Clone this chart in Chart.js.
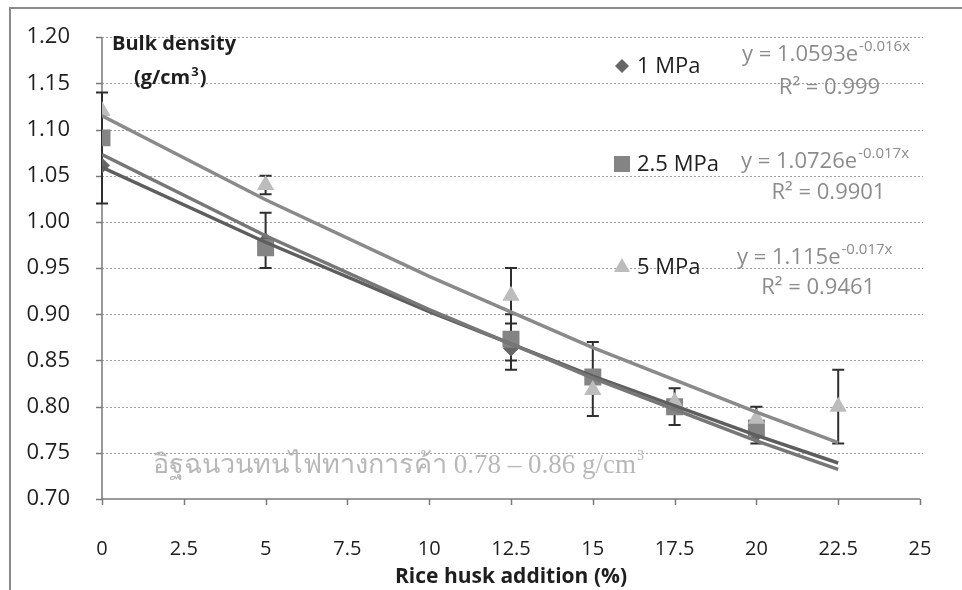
<!DOCTYPE html>
<html>
<head>
<meta charset="utf-8">
<script src="https://cdn.jsdelivr.net/npm/chart.js@4.4.0/dist/chart.umd.min.js"></script>
<style>
html,body{margin:0;padding:0;background:#fff;}
#c{display:block;}
</style>
</head>
<body>
<canvas id="c" width="962" height="590" style="width:962px;height:590px"></canvas>
<script>
// ---- data ----
const xValues = [0, 5, 12.5, 15, 17.5, 20, 22.5];
const mpa1  = [1.061, 0.980, 0.863, 0.830, 0.800, 0.770, null];
const mpa25 = [1.091, 0.972, 0.873, 0.832, 0.800, 0.777, null];
const mpa5  = [1.120, 1.040, 0.920, 0.818, 0.805, 0.787, 0.800];

const err1Low   = [1.02, 0.95, 0.85, null, 0.78, 0.76, null];
const err1High  = [1.14, 1.01, 0.88, null, 0.82, 0.80, null];
const err25Low  = [null, null, 0.84, null, null, null, null];
const err25High = [null, null, 0.90, null, null, null, null];
const err5Low   = [null, 1.03, 0.89, 0.79, null, null, 0.76];
const err5High  = [null, 1.05, 0.95, 0.87, null, null, 0.84];

// trendline values
const trendX  = [0, 5, 10, 15, 20, 22.5];
const trend1  = [1.059, 0.978, 0.903, 0.833, 0.769, 0.739];
const trend25 = [1.073, 0.985, 0.905, 0.831, 0.763, 0.732];
const trend5  = [1.115, 1.024, 0.941, 0.864, 0.794, 0.761];

const seriesNames = ['1 MPa', '2.5 MPa', '5 MPa'];
const equations = [['y = 1.0593e', '-0.016x', 'R² = 0.999'],
                   ['y = 1.0726e', '-0.017x', 'R² = 0.9901'],
                   ['y = 1.115e',  '-0.017x', 'R² = 0.9461']];
const xTickLabels = ['0','2.5','5','7.5','10','12.5','15','17.5','20','22.5','25'];
const yTickLabels = ['0.70','0.75','0.80','0.85','0.90','0.95','1.00','1.05','1.10','1.15','1.20'];
const xTitle = 'Rice husk addition (%)';
const yTitle1 = 'Bulk density';
const yTitle2 = '(g/cm';
const noteText = 'อิฐฉนวนทนไฟทางการค้า 0.78 – 0.86 g/cm';

const FONT = '"Open Sans", Lato, sans-serif';

function pts(xs, ys){ const o=[]; xs.forEach((x,i)=>{ if(ys[i]!==null) o.push({x:x,y:ys[i]}); }); return o; }

const colDiamond = '#666666', colSquare = '#848484', colTri = '#bcbcbc';

const deco = {
  id:'deco',
  beforeDraw(chart){
    const ctx = chart.ctx;
    ctx.save();
    ctx.fillStyle = '#fff';
    ctx.fillRect(0,0,chart.width,chart.height);
    ctx.strokeStyle = '#8a8a8a'; ctx.lineWidth = 2;
    ctx.beginPath(); ctx.moveTo(10,600); ctx.lineTo(10,8); ctx.lineTo(975,8); ctx.stroke();
    ctx.restore();
  },
  beforeDatasetsDraw(chart){
    const ctx = chart.ctx, xs = chart.scales.x, ys = chart.scales.y, a = chart.chartArea;
    ctx.save();
    // dotted grid
    ctx.strokeStyle = '#a0a0a0'; ctx.lineWidth = 1; ctx.setLineDash([2,2]);
    ys.ticks.forEach(t => {
      const y = Math.round(ys.getPixelForValue(t.value)) + 0.5;
      if (Math.abs(t.value - ys.min) < 1e-6) return;
      ctx.beginPath(); ctx.moveTo(a.left, y); ctx.lineTo(a.right + 3, y); ctx.stroke();
    });
    ctx.setLineDash([]);
    // axes
    ctx.strokeStyle = '#7a7a7a'; ctx.lineWidth = 1.5;
    ctx.beginPath(); ctx.moveTo(a.left, a.top); ctx.lineTo(a.left, a.bottom); ctx.lineTo(a.right, a.bottom); ctx.stroke();
    ys.ticks.forEach(t => {
      const y = Math.round(ys.getPixelForValue(t.value)) + 0.5;
      ctx.beginPath(); ctx.moveTo(a.left - 6, y); ctx.lineTo(a.left, y); ctx.stroke();
    });
    xs.ticks.forEach(t => {
      const x = Math.round(xs.getPixelForValue(t.value)) + 0.5;
      ctx.beginPath(); ctx.moveTo(x, a.bottom); ctx.lineTo(x, a.bottom + 6); ctx.stroke();
    });
    // error bars
    ctx.strokeStyle = '#2e2e2e'; ctx.lineWidth = 2;
    [[err1Low,err1High],[err25Low,err25High],[err5Low,err5High]].forEach(([lo,hi]) => {
      xValues.forEach((xv,i) => {
        if (lo[i]===null || hi[i]===null) return;
        const x = xs.getPixelForValue(xv), y1 = ys.getPixelForValue(lo[i]), y2 = ys.getPixelForValue(hi[i]);
        ctx.beginPath();
        ctx.moveTo(x, y1); ctx.lineTo(x, y2);
        ctx.moveTo(x-6, y1); ctx.lineTo(x+6, y1);
        ctx.moveTo(x-6, y2); ctx.lineTo(x+6, y2);
        ctx.stroke();
      });
    });
    // note text
    ctx.fillStyle = '#b8b8b8';
    ctx.font = '27px "Liberation Serif", "DejaVu Serif", serif';
    ctx.textBaseline = 'middle'; ctx.textAlign = 'left';
    ctx.fillText(noteText, 153, 466);
    const w = ctx.measureText(noteText).width;
    ctx.font = '14px "Liberation Serif", serif';
    ctx.fillText('3', 153 + w + 1, 456);
    ctx.restore();
  },
  afterDatasetsDraw(chart){
    const ctx = chart.ctx;
    ctx.save();
    ctx.textBaseline = 'middle'; ctx.textAlign = 'left';
    // y title
    ctx.fillStyle = '#1e1e1e';
    ctx.font = 'bold 20px ' + FONT;
    ctx.fillText(yTitle1, 112, 44);
    ctx.fillText(yTitle2, 134, 78);
    let w = ctx.measureText(yTitle2).width;
    ctx.font = 'bold 13px ' + FONT;
    ctx.fillText('3', 134 + w + 1, 72);
    const w3 = ctx.measureText('3').width;
    ctx.font = 'bold 20px ' + FONT;
    ctx.fillText(')', 134 + w + w3 + 2, 78);
    // x title
    ctx.font = 'bold 21px ' + FONT;
    ctx.textAlign = 'center';
    ctx.fillText(xTitle, 511, 577);
    // legend
    ctx.textAlign = 'left';
    const legY = [66, 164, 267];
    ctx.fillStyle = colDiamond;
    ctx.beginPath(); ctx.moveTo(622, legY[0]-7); ctx.lineTo(629, legY[0]); ctx.lineTo(622, legY[0]+7); ctx.lineTo(615, legY[0]); ctx.closePath(); ctx.fill();
    ctx.fillStyle = colSquare; ctx.fillRect(614, legY[1]-8, 16, 16);
    ctx.fillStyle = colTri;
    ctx.beginPath(); ctx.moveTo(622, legY[2]-9); ctx.lineTo(630, legY[2]+5); ctx.lineTo(614, legY[2]+5); ctx.closePath(); ctx.fill();
    ctx.fillStyle = '#1e1e1e';
    ctx.font = '22px ' + FONT;
    seriesNames.forEach((n,i) => ctx.fillText(n, 637, legY[i] + 1));
    // equations
    const eqY = [55, 162, 258], rY = [88, 193, 288], eqX = [742, 741, 737];
    ctx.fillStyle = '#8c8c8c';
    equations.forEach((e,i) => {
      ctx.textAlign = 'left';
      ctx.font = '22px ' + FONT;
      ctx.fillText(e[0], eqX[i], eqY[i]);
      const mw = ctx.measureText(e[0]).width;
      ctx.font = '15px ' + FONT;
      ctx.fillText(e[1], eqX[i] + mw + 1, eqY[i] - 8);
      const sw = ctx.measureText(e[1]).width;
      ctx.font = '22px ' + FONT;
      ctx.textAlign = 'center';
      ctx.fillText(e[2], eqX[i] + (mw + sw) / 2 + 4, rY[i]);
    });
    ctx.restore();
  }
};

const trendDs = (data, color) => ({ data: pts(trendX, data), showLine: true, borderColor: color, borderWidth: 3.5, pointRadius: 0, fill: false, tension: 0 });

new Chart(document.getElementById('c'), {
  type: 'scatter',
  data: {
    datasets: [
      trendDs(trend5, '#8a8a8a'),
      trendDs(trend25, '#777777'),
      trendDs(trend1, '#5e5e5e'),
      { label: seriesNames[2], data: pts(xValues, mpa5),  pointStyle: 'triangle', pointRadius: 10, backgroundColor: colTri, borderColor: colTri, borderWidth: 0 },
      { label: seriesNames[1], data: pts(xValues, mpa25), pointStyle: 'rect', pointRadius: 12, backgroundColor: colSquare, borderColor: colSquare, borderWidth: 0 },
      { label: seriesNames[0], data: pts(xValues, mpa1),  pointStyle: 'rectRot', pointRadius: 8, backgroundColor: colDiamond, borderColor: colDiamond, borderWidth: 0 }
    ]
  },
  options: {
    responsive: false, animation: false, devicePixelRatio: 1,
    layout: { padding: { left: 10, right: 42, top: 32, bottom: 0 } },
    plugins: { legend: { display: false }, tooltip: { enabled: false } },
    scales: {
      x: {
        type: 'linear', min: 0, max: 25,
        grid: { display: false }, border: { display: false },
        ticks: { stepSize: 2.5, color: '#1e1e1e', font: { family: FONT, size: 20 }, padding: 30, maxRotation: 0,
                 callback: (v, i) => xTickLabels[i] },
        afterFit: s => { s.height = 91; }
      },
      y: {
        min: 0.70, max: 1.20,
        grid: { display: false }, border: { display: false },
        ticks: { stepSize: 0.05, color: '#1e1e1e', font: { family: FONT, size: 22 }, padding: 24,
                 callback: (v, i) => yTickLabels[i] },
        afterFit: s => { s.width = 92; }
      }
    }
  },
  plugins: [deco]
});
</script>
</body>
</html>
